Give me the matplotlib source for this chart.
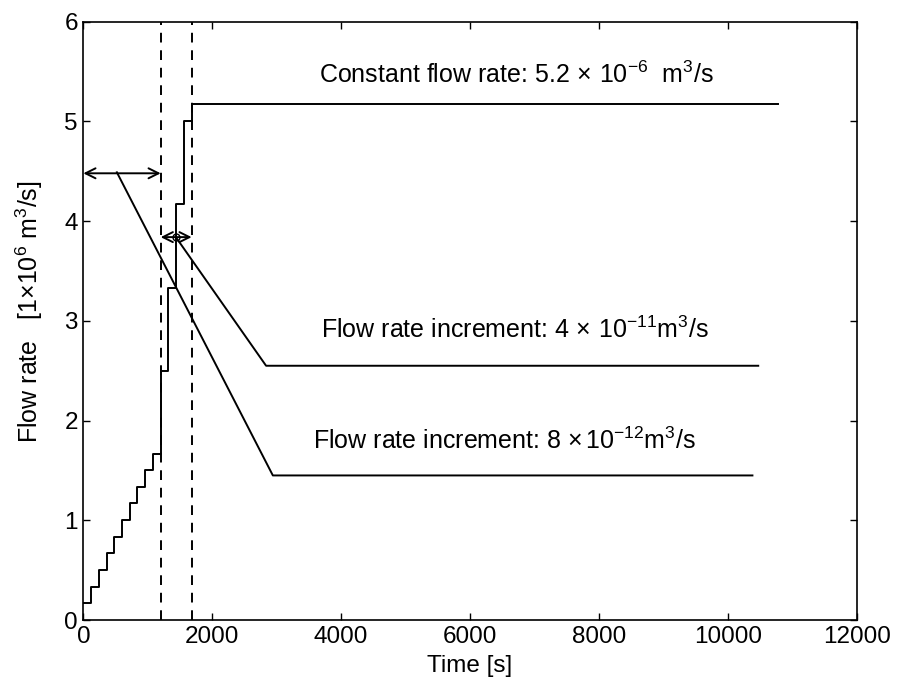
import matplotlib
matplotlib.use("Agg")
import matplotlib.pyplot as plt

plt.rcParams["font.family"] = ["Liberation Sans", "DejaVu Sans"]
plt.rcParams["mathtext.fontset"] = "custom"
plt.rcParams["mathtext.rm"] = "Liberation Sans"
plt.rcParams["mathtext.it"] = "Liberation Sans:italic"

# step loading: flow rate [1e-6 m3/s] held for 120 s per level
step_t = [0, 120, 240, 360, 480, 600, 720, 840, 960, 1080,
          1200, 1320, 1440, 1560, 1680, 10780]
step_q = [0.17, 0.33, 0.50, 0.67, 0.83, 1.00, 1.17, 1.33, 1.50, 1.67,
          2.50, 3.33, 4.17, 5.00, 5.17, 5.17]

# ramp loading lines
ramp_slow_t = [520, 2940, 10380]
ramp_slow_q = [4.49, 1.45, 1.45]
ramp_fast_t = [1435, 2835, 10470]
ramp_fast_q = [3.84, 2.55, 2.55]

dashed_t = [1200, 1680]
arrow_long = (0, 1200, 4.48)
arrow_short = (1200, 1680, 3.84)

fig = plt.figure(figsize=(9.01, 6.92), dpi=100)
ax = fig.add_axes([0.0925, 0.104, 0.8585, 0.8646])

lw = 1.4
ax.step(step_t, step_q, where="post", color="black", lw=lw)
ax.plot(ramp_slow_t, ramp_slow_q, color="black", lw=lw)
ax.plot(ramp_fast_t, ramp_fast_q, color="black", lw=lw)

for t in dashed_t:
    ax.plot([t, t], [0, 6], color="black", lw=lw, ls=(0, (5, 4)))

for x0, x1, y in [arrow_long, arrow_short]:
    ax.annotate("", xy=(x0, y), xytext=(x1, y),
                arrowprops=dict(arrowstyle="<->", color="black", lw=lw,
                                mutation_scale=18, shrinkA=0, shrinkB=0))
ax.plot([1435], [3.84], marker="o", ms=5, mfc="none", mec="black", mew=1)

fs = 18
ax.text(3650, 5.47, r"Constant flow rate: 5.2$\,\times\,$10$^{-6}$  m$^{3}$/s",
        fontsize=fs, va="center")
ax.text(3680, 2.91, r"Flow rate increment: 4$\,\times\,$10$^{-11}$m$^{3}$/s",
        fontsize=fs, va="center")
ax.text(3570, 1.80, r"Flow rate increment: 8 $\times\,$10$^{-12}$m$^{3}$/s",
        fontsize=fs, va="center")

ax.set_xlim(0, 12000)
ax.set_ylim(0, 6)
ax.set_xticks(range(0, 12001, 2000))
ax.set_yticks(range(0, 7))
ax.tick_params(direction="in", top=True, right=True, length=5,
               labelsize=17.5, width=1, pad=4)
for s in ax.spines.values():
    s.set_linewidth(1.2)

ax.set_xlabel("Time [s]", fontsize=17.5, labelpad=5)
ax.set_ylabel(r"Flow rate   [1$\times$10$^{6}$ m$^{3}$/s]", fontsize=18)
ax.yaxis.set_label_coords(-0.05, 0.515)

fig.savefig("out.png", dpi=100)
